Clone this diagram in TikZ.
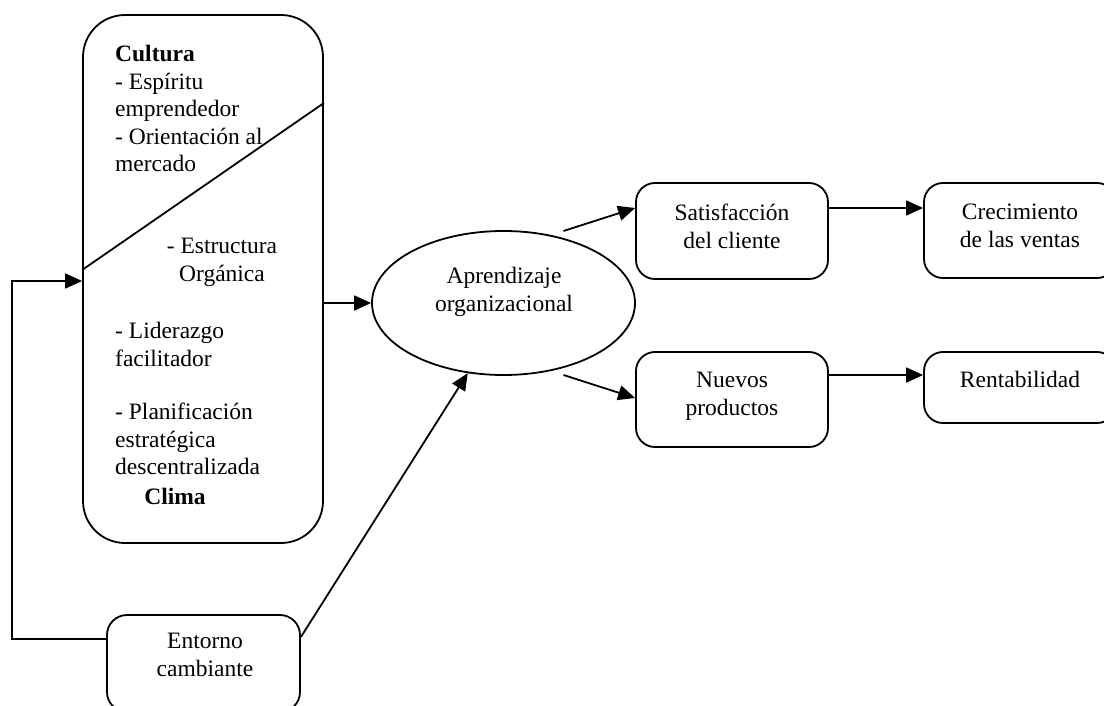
\documentclass[tikz,border=0pt]{standalone}
\usepackage{fontspec}
\setmainfont{Liberation Serif}
\usetikzlibrary{arrows.meta,shapes.geometric,calc}

\begin{document}
\begin{tikzpicture}[x=1pt,y=-1pt,
  every node/.style={font=\fontsize{23.5}{27.5}\selectfont, inner sep=0pt},
  plain/.style={line width=1.8pt},
  conn/.style={line width=1.8pt, -{Triangle[length=17pt,width=15pt]}},
  box/.style={draw, line width=1.8pt, rectangle, rounded corners=19pt},
  txt/.style={align=center, anchor=north},
  ltxt/.style={align=left, anchor=north west}]

\useasboundingbox (0,0) rectangle (1104,706);
\clip (0,0) rectangle (1104,706);

% shapes
\node[box, rounded corners=42pt, minimum width=240pt, minimum height=528pt] (main) at (203,279) {};
\node[ellipse, draw, line width=1.8pt, minimum width=263pt, minimum height=144pt] (ell) at (503.5,303) {};
\node[box, minimum width=192pt, minimum height=96pt] (sat)  at (732,231) {};
\node[box, minimum width=192pt, minimum height=95pt] (crec) at (1020,230.5) {};
\node[box, minimum width=192pt, minimum height=95pt] (nue)  at (732,399.5) {};
\node[box, minimum width=192pt, minimum height=71pt] (rent) at (1020,387.5) {};
\node[box, rounded corners=20pt, minimum width=193pt, minimum height=97pt] (entorno) at (203.5,663.5) {};

% texts
\node[ltxt] (cultura) at (115,45) {\textbf{Cultura}\\- Espíritu\\emprendedor\\- Orientación al\\mercado};
\node[txt] (estructura) at (222,238) {- Estructura\\Orgánica};
\node[ltxt] (liderazgo) at (115,322) {- Liderazgo\\facilitador};
\node[ltxt] (planif) at (115,403) {- Planificación\\estratégica\\descentralizada};
\node[txt] (clima) at (175,488) {\textbf{Clima}};
\node[txt] (ell-t) at (504,267) {Aprendizaje\\organizacional};
\node[txt] (sat-t) at (732,204) {Satisfacción\\del cliente};
\node[txt] (crec-t) at (1020,204) {Crecimiento\\de las ventas};
\node[txt] (nue-t) at (732,372) {Nuevos\\productos};
\node[txt] (rent-t) at (1020,371) {Rentabilidad};
\node[txt] (ent-t) at (205,633) {Entorno\\cambiante};

% dividing line inside the main box
\draw[plain] (main.west |- 0,270) -- (main.east |- 0,103);

% connectors
\draw[conn] (main.east |- ell.west) -- (ell.west);
\draw[conn] (entorno.east |- 0,637) -- (ell.243);
\draw[conn] (entorno.west |- 0,639) -- (12,639) -- (12,281) -- (main.west |- 0,281);
\draw[conn] ($(ell.center)+(60,-72)$) -- (sat.west |- 0,208);
\draw[conn] ($(ell.center)+(60,72)$) -- (nue.west |- 0,398);
\draw[conn] (sat.east |- 0,208) -- (crec.west |- 0,208);
\draw[conn] (nue.east |- 0,375) -- (rent.west |- 0,375);
\end{tikzpicture}
\end{document}
